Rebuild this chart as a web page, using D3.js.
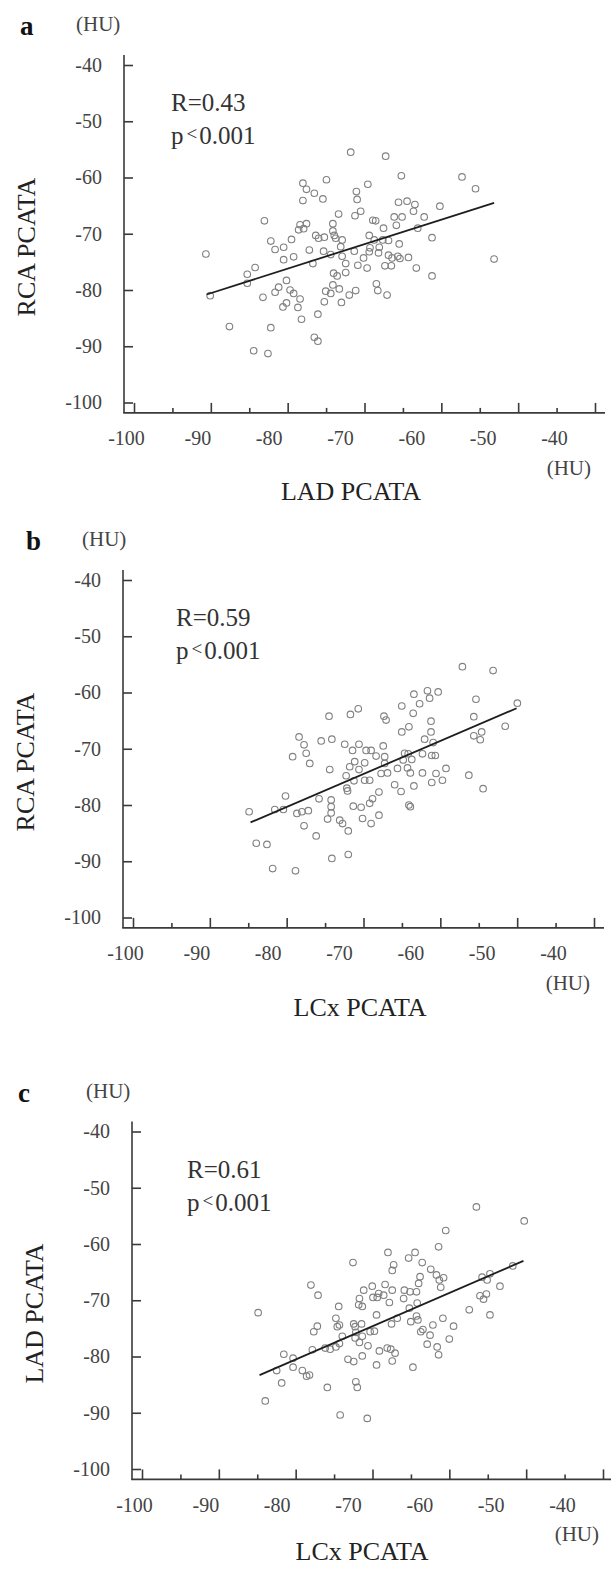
<!DOCTYPE html>
<html>
<head>
<meta charset="utf-8">
<script src="https://cdn.jsdelivr.net/npm/d3@7"></script>
<style>
  body { margin: 0; background: #fff; }
  svg { display: block; }
  text { font-family: "Liberation Serif", "DejaVu Serif", serif; }
</style>
</head>
<body>
<svg id="chart" width="611" height="1570"></svg>
<script>
// tick values (HU)
const yTicks = [-40, -50, -60, -70, -80, -90, -100];
const xLabels = [-100, -90, -80, -70, -60, -50, -40];
const xMajor = [-100, -90, -80, -70, -60, -50, -40];
const xMinor = [-95, -85, -75, -65, -55, -45];

// panel a: LAD PCATA (x) vs RCA PCATA (y)
const ptsA = [
  [-68.5,-55.5],[-63.6,-56.2],[-61.4,-59.7],[-52.9,-59.9],[-51.0,-62.0],[-75.2,-61.0],[-74.7,-62.1],
  [-73.6,-62.8],[-71.9,-60.4],[-66.1,-61.2],[-67.7,-62.5],[-67.6,-63.9],[-75.2,-64.1],[-72.4,-63.8],
  [-61.8,-64.4],[-60.6,-64.2],[-59.5,-64.8],[-59.7,-66.0],[-56.0,-65.1],[-70.2,-66.5],[-67.9,-66.8],
  [-67.1,-66.0],[-80.6,-67.7],[-75.6,-68.4],[-74.7,-68.2],[-75.8,-69.3],[-75.1,-69.1],[-71.0,-68.2],
  [-71.0,-69.5],[-65.4,-67.6],[-65.0,-67.7],[-62.4,-67.0],[-61.3,-67.0],[-62.1,-68.5],[-63.9,-69.0],
  [-58.2,-67.0],[-59.1,-69.0],[-57.1,-70.7],[-79.7,-71.3],[-76.8,-71.0],[-79.1,-72.8],[-77.9,-72.4],
  [-73.4,-70.3],[-73.0,-70.8],[-72.2,-70.6],[-70.8,-70.3],[-70.6,-70.8],[-69.7,-71.1],[-69.9,-72.3],
  [-74.3,-72.9],[-72.3,-73.1],[-71.3,-73.7],[-65.9,-70.3],[-65.2,-71.1],[-64.0,-71.1],[-63.2,-71.2],
  [-61.7,-71.8],[-65.8,-72.5],[-64.5,-72.4],[-64.6,-73.4],[-65.9,-73.2],[-66.7,-74.3],[-63.2,-73.8],
  [-62.7,-74.3],[-61.9,-74.0],[-61.6,-74.4],[-60.4,-74.2],[-88.8,-73.6],[-77.9,-74.6],[-76.5,-74.1],
  [-69.7,-74.0],[-68.0,-73.1],[-81.9,-76.0],[-73.8,-75.3],[-69.2,-75.3],[-67.5,-75.6],[-66.2,-76.1],
  [-63.7,-75.7],[-62.8,-75.7],[-59.3,-76.1],[-57.1,-77.5],[-83.0,-77.2],[-83.0,-78.8],[-88.2,-81.0],
  [-80.8,-81.3],[-79.1,-80.4],[-78.6,-79.5],[-77.5,-78.3],[-77.0,-80.0],[-76.5,-80.6],[-75.6,-81.6],
  [-77.5,-82.3],[-78.0,-83.0],[-75.9,-83.1],[-75.4,-85.2],[-73.1,-84.3],[-72.2,-82.1],[-72.0,-80.2],
  [-71.3,-80.6],[-71.0,-79.1],[-70.1,-79.8],[-69.8,-82.2],[-68.7,-80.9],[-67.8,-80.1],[-70.9,-77.0],
  [-70.4,-77.5],[-69.2,-76.9],[-64.9,-78.9],[-64.7,-80.1],[-63.4,-80.9],[-85.5,-86.5],[-79.7,-86.7],
  [-73.6,-88.4],[-73.1,-89.1],[-82.1,-90.8],[-80.1,-91.3],[-48.4,-74.5]
];
const fitA = [[-88.7,-80.8],[-48.4,-64.5]];

// panel b: LCx PCATA (x) vs RCA PCATA (y)
const ptsB = [
  [-52.7,-55.4],[-48.4,-56.1],[-59.5,-60.3],[-57.6,-59.7],[-56.1,-59.9],[-57.3,-61.0],[-50.8,-61.2],
  [-45.0,-61.9],[-61.2,-62.4],[-58.7,-62.0],[-59.6,-63.7],[-67.3,-62.9],[-71.4,-64.2],[-68.4,-63.9],
  [-63.7,-64.2],[-63.4,-64.9],[-57.1,-65.1],[-51.1,-64.3],[-61.2,-67.0],[-60.2,-66.1],[-57.1,-67.0],
  [-46.7,-66.0],[-51.1,-67.7],[-50.0,-67.0],[-50.2,-68.4],[-75.6,-67.9],[-74.9,-69.3],[-74.6,-70.8],
  [-72.5,-68.6],[-71.0,-68.3],[-76.5,-71.4],[-74.1,-72.6],[-69.2,-69.2],[-68.1,-70.3],[-67.2,-69.2],
  [-66.2,-70.3],[-65.5,-70.3],[-64.8,-71.3],[-63.8,-69.5],[-63.6,-71.4],[-58.0,-68.3],[-56.8,-68.9],
  [-60.8,-70.8],[-60.3,-70.9],[-58.3,-70.9],[-57.0,-71.2],[-56.5,-71.2],[-67.8,-72.3],[-66.4,-72.5],
  [-63.6,-72.6],[-61.0,-72.0],[-59.8,-71.9],[-68.5,-73.2],[-67.2,-73.7],[-61.8,-73.5],[-60.4,-73.4],
  [-60.0,-74.3],[-58.3,-74.3],[-56.4,-74.4],[-55.0,-73.5],[-55.5,-75.6],[-57.0,-76.0],[-71.3,-73.7],
  [-69.0,-74.8],[-67.9,-75.7],[-66.4,-75.6],[-65.7,-75.6],[-64.1,-74.4],[-63.2,-74.3],[-62.2,-76.4],
  [-61.3,-77.6],[-59.5,-76.6],[-51.8,-74.7],[-49.8,-77.1],[-68.9,-77.0],[-68.8,-77.5],[-64.4,-77.7],
  [-65.3,-78.9],[-77.5,-78.4],[-72.8,-78.9],[-71.1,-79.1],[-82.6,-81.2],[-79.0,-80.8],[-77.8,-80.8],
  [-75.9,-81.5],[-75.2,-81.2],[-74.3,-81.0],[-74.9,-83.7],[-71.1,-80.3],[-71.1,-81.4],[-71.6,-82.5],
  [-73.2,-85.5],[-69.9,-82.7],[-69.5,-83.3],[-68.7,-84.6],[-68.0,-80.2],[-66.9,-80.4],[-66.7,-82.4],
  [-65.7,-79.7],[-65.5,-83.3],[-64.4,-81.8],[-60.2,-80.0],[-60.0,-80.3],[-81.6,-86.8],[-80.1,-87.0],
  [-71.0,-89.5],[-68.7,-88.8],[-79.3,-91.3],[-76.1,-91.7]
];
const fitB = [[-82.4,-83.1],[-45.1,-62.8]];

// panel c: LCx PCATA (x) vs LAD PCATA (y)
const ptsC = [
  [-52.0,-53.4],[-45.3,-55.9],[-56.3,-57.6],[-57.3,-60.5],[-64.4,-61.5],[-60.6,-61.5],[-69.3,-63.3],
  [-63.6,-63.7],[-63.8,-64.7],[-61.5,-62.5],[-59.6,-63.3],[-58.4,-64.5],[-59.9,-65.8],[-60.1,-67.0],
  [-57.6,-65.5],[-57.2,-66.4],[-56.6,-66.0],[-57.0,-67.7],[-50.1,-65.3],[-51.2,-65.9],[-50.5,-66.4],
  [-46.9,-63.9],[-48.7,-67.5],[-51.5,-69.2],[-50.6,-68.9],[-51.0,-69.8],[-75.2,-67.3],[-74.2,-69.1],
  [-67.8,-68.2],[-66.6,-67.5],[-65.7,-68.8],[-64.8,-67.2],[-63.8,-68.2],[-68.4,-69.7],[-66.5,-69.5],
  [-65.9,-69.5],[-65.0,-69.1],[-62.1,-68.2],[-61.3,-68.5],[-60.4,-68.5],[-62.2,-69.7],[-64.2,-70.4],
  [-71.3,-71.1],[-68.5,-70.8],[-60.3,-70.5],[-53.0,-71.7],[-82.6,-72.2],[-68.0,-71.1],[-50.1,-72.6],
  [-71.7,-73.2],[-71.2,-74.4],[-71.5,-74.7],[-74.3,-74.6],[-74.8,-75.6],[-69.2,-74.2],[-69.0,-74.7],
  [-68.1,-74.2],[-68.9,-75.7],[-69.0,-76.7],[-68.0,-76.4],[-66.9,-75.6],[-66.3,-75.5],[-66.0,-72.6],
  [-63.9,-74.2],[-63.1,-73.2],[-61.4,-71.4],[-61.2,-73.8],[-60.4,-72.8],[-60.2,-73.5],[-59.8,-75.6],
  [-59.5,-75.2],[-58.1,-74.4],[-58.5,-76.2],[-56.7,-73.2],[-55.2,-74.6],[-55.8,-76.9],[-58.9,-77.8],
  [-57.5,-78.3],[-57.3,-79.7],[-70.8,-76.4],[-71.2,-77.7],[-71.7,-78.3],[-73.2,-78.5],[-72.5,-78.7],
  [-75.0,-78.8],[-68.4,-77.5],[-67.2,-78.1],[-65.6,-79.0],[-64.5,-78.5],[-64.0,-78.7],[-63.4,-79.4],
  [-63.8,-80.8],[-68.0,-79.9],[-70.0,-80.5],[-69.2,-80.9],[-66.0,-81.5],[-60.9,-81.9],[-79.0,-79.6],
  [-77.7,-80.3],[-77.7,-81.9],[-80.0,-82.5],[-76.4,-82.5],[-75.8,-83.5],[-75.4,-83.3],[-79.3,-84.7],
  [-72.9,-85.5],[-68.9,-84.5],[-68.7,-85.5],[-81.6,-87.9],[-71.1,-90.4],[-67.3,-91.0]
];
const fitC = [[-82.4,-83.3],[-45.4,-63.0]];

const panels = [
  { letter: "a", pts: ptsA, fit: fitA, r: "R=0.43", xTitle: "LAD PCATA", yTitle: "RCA PCATA",
    ax: 124, top: 65, rX: 171, letterX: 20, huX: 76, xTitleX: 351, xTitleDy: 87 },
  { letter: "b", pts: ptsB, fit: fitB, r: "R=0.59", xTitle: "LCx PCATA", yTitle: "RCA PCATA",
    ax: 123, top: 580, rX: 176, letterX: 26, huX: 82, xTitleX: 360, xTitleDy: 88 },
  { letter: "c", pts: ptsC, fit: fitC, r: "R=0.61", xTitle: "LCx PCATA", yTitle: "LAD PCATA",
    ax: 132, top: 1131.5, rX: 187, letterX: 18, huX: 86, xTitleX: 362, xTitleDy: 81 }
];

const svg = d3.select("#chart");
svg.append("rect").attr("width", 611).attr("height", 1570).attr("fill", "#fff");

const axisColor = "#3a3a3a";
const labelColor = "#444";

panels.forEach(p => {
    const y = d3.scaleLinear().domain([-100, -40]).range([p.top + 337.5, p.top]);
    // values / tick labels
    const x = d3.scaleLinear().domain([-100, -40]).range([p.ax + 2, p.ax + 430]);
    // tick marks are drawn on a slightly wider grid than the labels
    const xt = d3.scaleLinear().domain([-100, -40]).range([p.ax + 10, p.ax + 471]);

    const baseY = y(-101.85);
    const g = svg.append("g");

    // axis lines
    g.append("line")
        .attr("x1", p.ax).attr("x2", p.ax)
        .attr("y1", y(-38.2)).attr("y2", baseY)
        .attr("stroke", axisColor).attr("stroke-width", 1.6);
    g.append("line")
        .attr("x1", p.ax - 0.8).attr("x2", xt(-38.7))
        .attr("y1", baseY).attr("y2", baseY)
        .attr("stroke", axisColor).attr("stroke-width", 1.6);

    // y axis
    const yAxis = g.append("g")
        .attr("transform", `translate(${p.ax},0)`)
        .call(d3.axisLeft(y).tickValues(yTicks).tickSize(-9).tickPadding(22).tickFormat(d => String(d)));

    // x axis tick marks
    const xMaj = g.append("g")
        .attr("transform", `translate(0,${baseY})`)
        .call(d3.axisBottom(xt).tickValues(xMajor).tickSize(-10).tickFormat(""));
    const xMin = g.append("g")
        .attr("transform", `translate(0,${baseY})`)
        .call(d3.axisBottom(xt).tickValues(xMinor).tickSize(-5).tickFormat(""));
    // x axis labels
    const xLab = g.append("g")
        .attr("transform", `translate(0,${baseY})`)
        .call(d3.axisBottom(x).tickValues(xLabels).tickSize(0).tickPadding(18).tickFormat(d => String(d)));

    [yAxis, xMaj, xMin, xLab].forEach(a => {
        a.select(".domain").remove();
        a.selectAll(".tick line").attr("stroke", axisColor).attr("stroke-width", 1.6);
        a.selectAll(".tick text")
            .attr("font-family", "'Liberation Serif', serif")
            .attr("font-size", 20)
            .attr("fill", labelColor);
    });

    // points
    g.append("g").selectAll("circle")
        .data(p.pts)
        .join("circle")
        .attr("cx", d => x(d[0]))
        .attr("cy", d => y(d[1]))
        .attr("r", 3.3)
        .attr("fill", "none")
        .attr("stroke", "#808080")
        .attr("stroke-width", 1.1);

    // regression line
    g.append("path")
        .datum(p.fit)
        .attr("fill", "none")
        .attr("stroke", "#1e1e1e")
        .attr("stroke-width", 1.8)
        .attr("d", d3.line().x(d => x(d[0])).y(d => y(d[1])));

    // panel letter and unit
    g.append("text")
        .attr("x", p.letterX).attr("y", p.top - 30)
        .attr("font-size", 27).attr("font-weight", "bold").attr("fill", "#111")
        .text(p.letter);
    g.append("text")
        .attr("x", p.huX).attr("y", p.top - 34)
        .attr("font-size", 21).attr("fill", labelColor)
        .text("(HU)");

    // stats
    g.append("text")
        .attr("x", p.rX).attr("y", p.top + 46)
        .attr("font-size", 25).attr("fill", "#333")
        .text(p.r);
    const pt = g.append("text")
        .attr("x", p.rX).attr("y", p.top + 79)
        .attr("font-size", 25).attr("fill", "#333");
    pt.append("tspan").text("p");
    pt.append("tspan").attr("font-size", 19).attr("dy", -4).attr("dx", 3).text("<");
    pt.append("tspan").attr("dy", 4).attr("dx", 2).text("0.001");

    // axis titles
    g.append("text")
        .attr("transform", `translate(${p.ax - 98},${p.top + 182}) rotate(-90)`)
        .attr("text-anchor", "middle")
        .attr("dominant-baseline", "central")
        .attr("font-size", 26).attr("fill", "#222")
        .text(p.yTitle);
    g.append("text")
        .attr("x", p.xTitleX).attr("y", baseY + p.xTitleDy)
        .attr("text-anchor", "middle")
        .attr("font-size", 26).attr("fill", "#222")
        .text(p.xTitle);
    g.append("text")
        .attr("x", p.ax + 467).attr("y", baseY + 62)
        .attr("text-anchor", "end")
        .attr("font-size", 21).attr("fill", labelColor)
        .text("(HU)");
});
</script>
</body>
</html>
